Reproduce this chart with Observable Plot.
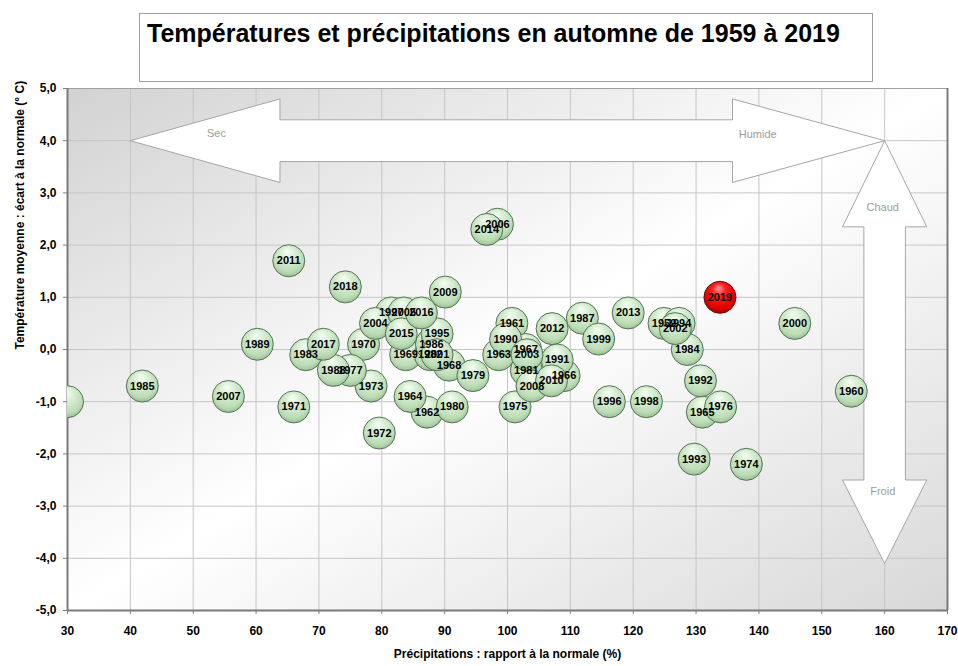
<!DOCTYPE html>
<html><head><meta charset="utf-8">
<script src="https://cdn.jsdelivr.net/npm/d3@7"></script>
<script src="https://cdn.jsdelivr.net/npm/@observablehq/plot@0.6"></script>
<style>
body{margin:0;background:#fff;}
#wrap{position:relative;width:958px;height:666px;overflow:hidden;}
#chart{position:absolute;left:0;top:0;}
#title{position:absolute;left:139px;top:13px;width:725px;height:67px;padding-left:7px;border:1px solid #a0a0a0;background:#fff;
 font:bold 25px "Liberation Sans",Arial,sans-serif;text-align:left;line-height:38px;color:#000;white-space:nowrap;}
</style></head>
<body>
<div id="wrap"><div id="chart"></div><div id="title">Températures et précipitations en automne de 1959 à 2019</div></div>
<script>
// Data: autumn years, precipitation (% of normal), temperature anomaly (°C)
const years = [1959,1960,1961,1962,1963,1964,1965,1966,1967,1968,1969,1970,1971,1972,1973,1974,1975,1976,1977,1978,
  1979,1980,1981,1982,1983,1984,1985,1986,1987,1988,1989,1990,1991,1992,1993,1994,1995,1996,1997,1998,1999,
  2000,2001,2002,2003,2004,2005,2006,2007,2008,2009,2010,2011,2012,2013,2014,2015,2016,2017,2018,2019];
const precip = [124.9,154.7,100.7,87.2,98.6,84.5,131.0,109.0,102.9,90.7,83.8,77.1,66.0,79.6,78.3,138.0,101.2,133.9,75.0,30.0,
  94.5,91.2,103.0,87.7,67.9,128.6,41.9,87.9,111.9,72.3,60.2,99.7,107.9,130.7,129.7,127.3,88.8,116.2,81.5,122.1,114.5,
  145.7,88.8,126.7,103.1,79.0,83.5,98.4,55.6,103.9,90.1,107.0,65.2,107.1,119.2,96.7,83.1,86.3,70.7,74.2,133.8];
const temp = [0.5,-0.8,0.5,-1.2,-0.1,-0.9,-1.2,-0.5,0.0,-0.3,-0.1,0.1,-1.1,-1.6,-0.7,-2.2,-1.1,-1.1,-0.4,-1.0,
  -0.5,-1.1,-0.4,-0.1,-0.1,0.0,-0.7,0.1,0.6,-0.4,0.1,0.2,-0.2,-0.6,-2.1,0.5,0.3,-1.0,0.7,-1.0,0.2,
  0.5,-0.1,0.4,-0.1,0.5,0.7,2.4,-0.9,-0.7,1.1,-0.6,1.7,0.4,0.7,2.3,0.3,0.7,0.1,1.2,1.0];
const highlightYear = 2019;

const xTicks = [30,40,50,60,70,80,90,100,110,120,130,140,150,160,170];
const yTicks = [-5,-4,-3,-2,-1,0,1,2,3,4,5];

// Annotation arrows (in data units)
const arrowHx = [40,63.8,63.8,135.8,135.8,160,135.8,135.8,63.8,63.8,40];
const arrowHy = [4,4.8,4.4,4.4,4.8,4,3.2,3.6,3.6,3.2,4];
const arrowVx = [160,166.7,163.3,163.3,166.7,160,153.3,156.7,156.7,153.3,160];
const arrowVy = [4,2.35,2.35,-2.5,-2.5,-4.1,-2.5,-2.5,2.35,2.35,4];
const arrowLabels = ["Sec","Humide","Chaud","Froid"];
const arrowLabelX = [53.7,139.8,159.7,159.7];
const arrowLabelY = [4.14,4.12,2.72,-2.72];

const xLabel = "Précipitations : rapport à la normale (%)";
const yLabel = "Température moyenne : écart à la normale (° C)";

const pts = years.map((yr,i)=>({year:yr, p:precip[i], t:temp[i]}));
const hPoly = arrowHx.map((x,i)=>({x, y:arrowHy[i]}));
const vPoly = arrowVx.map((x,i)=>({x, y:arrowVy[i]}));
const aLab = arrowLabels.map((s,i)=>({s, x:arrowLabelX[i], y:arrowLabelY[i]}));
const fmt = d => d.toFixed(1).replace(".", ",");

const chart = Plot.plot({
  width:958, height:666,
  marginLeft:67, marginRight:11, marginTop:88, marginBottom:56,
  style:{fontFamily:'"Liberation Sans", Arial, sans-serif', fontSize:"12px", background:"transparent", color:"#000"},
  x:{domain:[30,170]},
  y:{domain:[-5,5]},
  marks:[
    Plot.frame({fill:"url(#bgGrad)", stroke:null}),
    Plot.gridX(xTicks, {stroke:"#c6c6c6", strokeOpacity:1}),
    Plot.gridY(yTicks, {stroke:"#c6c6c6", strokeOpacity:1}),
    Plot.line(hPoly, {x:"x", y:"y", fill:"white", stroke:"#a6a6a6", strokeWidth:1, curve:"linear"}),
    Plot.line(vPoly, {x:"x", y:"y", fill:"white", stroke:"#a6a6a6", strokeWidth:1, curve:"linear"}),
    Plot.text(aLab, {x:"x", y:"y", text:"s", fill:"#9c9c9c", fontSize:11, letterSpacing:"0.3px"}),
    Plot.frame({stroke:"#a0a0a0"}),
    Plot.ruleX([30], {stroke:"#7a7a7a", strokeWidth:2}),
    Plot.ruleX([170], {stroke:"#7a7a7a", strokeWidth:2}),
    Plot.ruleY([-5], {stroke:"#7a7a7a", strokeWidth:2}),
    Plot.dot(pts, {filter:d=>d.year!==highlightYear, x:"p", y:"t", r:16, fill:"url(#greenGrad)", stroke:"#557255", strokeWidth:1, clip:true}),
    Plot.dot(pts, {filter:d=>d.year===highlightYear, x:"p", y:"t", r:16, fill:"url(#redGrad)", stroke:"#7a0000", strokeWidth:1, clip:true}),
    Plot.text(pts, {filter:d=>d.p>32, x:"p", y:"t", text:d=>String(d.year), fontWeight:"bold", fontSize:11, fill:"#000"}),
    Plot.axisX(xTicks, {tickSize:4, tickPadding:12, stroke:"#808080", fontWeight:"bold", fontSize:12, label:null}),
    Plot.axisY(yTicks, {tickSize:4, tickPadding:7, stroke:"#808080", fontWeight:"bold", fontSize:12, tickFormat:fmt, label:null}),
    Plot.text([xLabel], {frameAnchor:"bottom", dy:47, fontWeight:"bold", fontSize:12}),
    Plot.text([yLabel], {frameAnchor:"left", dx:-47, rotate:-90, fontWeight:"bold", fontSize:12})
  ]
});

const svg = d3.select(chart);
const defs = svg.insert("defs", ":first-child");
const bg = defs.append("linearGradient").attr("id","bgGrad").attr("x1",0).attr("y1",0).attr("x2",1).attr("y2",1);
[[0,"#d2d2d2"],[0.5,"#ffffff"],[1,"#d8d8d8"]].forEach(([o,c])=>bg.append("stop").attr("offset",o).attr("stop-color",c));
const gg = defs.append("radialGradient").attr("id","greenGrad").attr("cx",0.5).attr("cy",0.4).attr("r",0.6).attr("fx",0.45).attr("fy",0.2);
[[0,"#f6fdf4"],[0.35,"#daefd6"],[0.8,"#bcdcb6"],[1,"#9cc196"]].forEach(([o,c])=>gg.append("stop").attr("offset",o).attr("stop-color",c));
const rg = defs.append("radialGradient").attr("id","redGrad").attr("cx",0.5).attr("cy",0.4).attr("r",0.6).attr("fx",0.45).attr("fy",0.2);
[[0,"#ff9a9a"],[0.35,"#ff2020"],[0.8,"#e00000"],[1,"#b00000"]].forEach(([o,c])=>rg.append("stop").attr("offset",o).attr("stop-color",c));

document.getElementById("chart").appendChild(chart);
</script>
</body></html>
